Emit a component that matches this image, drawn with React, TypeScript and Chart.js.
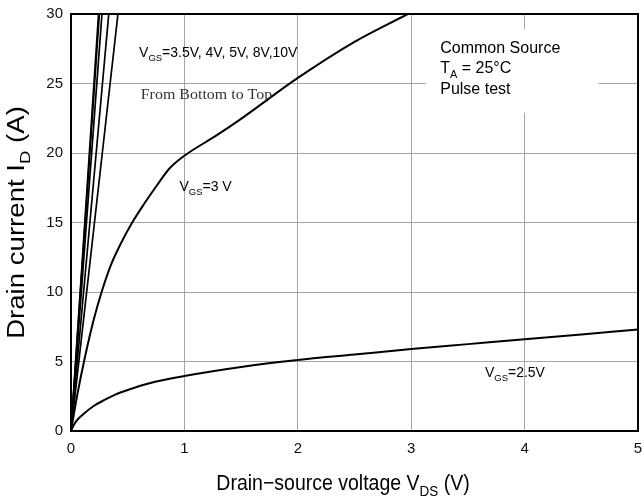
import React, { useEffect, useRef } from 'react';
import { Chart, registerables } from 'chart.js';

Chart.register(...registerables);

// ---- data ----
const vdsTicks = [0, 1, 2, 3, 4, 5];
const idTicks = [0, 5, 10, 15, 20, 25, 30];

// VGS = 2.5 V
const vds25 = [0, 0.02, 0.05, 0.1, 0.2, 0.3, 0.4, 0.5, 0.7, 1.0, 1.5, 2.0, 2.5, 3.0, 3.5, 4.0, 4.5, 5.0];
const id25 = [0, 0.35, 0.75, 1.15, 1.8, 2.25, 2.65, 2.95, 3.45, 3.95, 4.6, 5.1, 5.5, 5.9, 6.25, 6.6, 6.95, 7.3];

// VGS = 3 V
const vds3 = [0, 0.06, 0.12, 0.2, 0.27, 0.35, 0.44, 0.54, 0.65, 0.76, 0.87, 1.0, 1.29, 1.49, 2.0, 2.5, 2.97];
const id3 = [0, 2.8, 5.2, 8.0, 10.0, 11.9, 13.5, 15.0, 16.4, 17.7, 18.9, 19.8, 21.3, 22.4, 25.4, 28.0, 30];

// VGS = 3.5 V, 4 V, 5 V, 8 V, 10 V (nearly linear, drain voltage where 30 A is reached)
const steepGates = ['3.5V', '4V', '5V', '8V', '10V'];
const steepVdsAt30A = [0.414, 0.333, 0.273, 0.25, 0.243];
const steepIdEnd = 30;

const SANS = '"Liberation Sans", Arial, sans-serif';
const SERIF = '"Liberation Serif", "Times New Roman", serif';

type Part = { t: string; size: number; dy?: number; font?: string };

function drawParts(
  ctx: CanvasRenderingContext2D,
  parts: Part[],
  x: number,
  y: number,
  align: 'left' | 'center',
  color: string,
  sx = 1,
  sy = 1,
) {
  ctx.save();
  ctx.translate(x, y);
  ctx.scale(sx, sy);
  const widths = parts.map((p) => {
    ctx.font = `${p.size}px ${p.font || SANS}`;
    return ctx.measureText(p.t).width;
  });
  const total = widths.reduce((a, b) => a + b, 0);
  let cx = align === 'center' ? -total / 2 : 0;
  ctx.fillStyle = color;
  ctx.textAlign = 'left';
  ctx.textBaseline = 'alphabetic';
  parts.forEach((p, i) => {
    ctx.font = `${p.size}px ${p.font || SANS}`;
    ctx.fillText(p.t, cx, p.dy || 0);
    cx += widths[i];
  });
  ctx.restore();
}

const decorPlugin = {
  id: 'decor',
  beforeDatasetsDraw(chart: any) {
    const { ctx, scales } = chart;
    const xs = scales.x, ys = scales.y;
    // white box behind the test-condition text
    ctx.save();
    ctx.fillStyle = '#ffffff';
    const x0 = xs.getPixelForValue(3.13), x1 = xs.getPixelForValue(4.65);
    const y0 = ys.getPixelForValue(28.9), y1 = ys.getPixelForValue(22.9);
    ctx.fillRect(x0, y0, x1 - x0, y1 - y0);
    ctx.restore();
  },
  afterDraw(chart: any) {
    const { ctx, chartArea, scales } = chart;
    const xs = scales.x, ys = scales.y;
    const px = (v: number) => xs.getPixelForValue(v);
    const py = (v: number) => ys.getPixelForValue(v);
    ctx.save();
    // frame
    ctx.strokeStyle = '#000';
    ctx.lineWidth = 2;
    ctx.strokeRect(chartArea.left, chartArea.top, chartArea.right - chartArea.left, chartArea.bottom - chartArea.top);

    // annotations
    drawParts(ctx, [
      { t: 'V', size: 14 },
      { t: 'GS', size: 9.5, dy: 4 },
      { t: '=3.5V, 4V, 5V, 8V,10V', size: 14 },
    ], px(0.6), py(26.9), 'left', '#000');
    drawParts(ctx, [{ t: 'From Bottom to Top', size: 14, font: SERIF }], px(0.615), py(23.9), 'left', '#333', 1.14, 1);
    drawParts(ctx, [
      { t: 'V', size: 14 },
      { t: 'GS', size: 9.5, dy: 4 },
      { t: '=3 V', size: 14 },
    ], px(0.956), py(17.3), 'left', '#000');
    drawParts(ctx, [
      { t: 'V', size: 14 },
      { t: 'GS', size: 9.5, dy: 4 },
      { t: '=2.5V', size: 14 },
    ], px(3.65), py(3.9), 'left', '#000');

    drawParts(ctx, [{ t: 'Common Source', size: 16 }], px(3.256), py(27.17), 'left', '#000');
    drawParts(ctx, [
      { t: 'T', size: 16 },
      { t: 'A', size: 11, dy: 5 },
      { t: ' = 25°C', size: 16 },
    ], px(3.256), py(25.73), 'left', '#000');
    drawParts(ctx, [{ t: 'Pulse test', size: 16 }], px(3.256), py(24.22), 'left', '#000');

    // x axis title
    drawParts(ctx, [
      { t: 'Drain\u2212source voltage V', size: 19.5 },
      { t: 'DS', size: 13.5, dy: 5 },
      { t: ' (V)', size: 19.5 },
    ], 343, 490, 'center', '#000', 1, 1.1);

    // y axis title (rotated)
    ctx.save();
    ctx.translate(24, (chartArea.top + chartArea.bottom) / 2);
    ctx.rotate(-Math.PI / 2);
    drawParts(ctx, [
      { t: 'Drain current I', size: 23 },
      { t: 'D', size: 15.5, dy: 6 },
      { t: ' (A)', size: 23 },
    ], 0, 0, 'center', '#000', 1.2, 1);
    ctx.restore();

    ctx.restore();
  },
};

export default function App() {
  const ref = useRef<HTMLCanvasElement | null>(null);

  useEffect(() => {
    if (!ref.current) return;
    const line = (xsArr: number[], ysArr: number[], label: string, width = 2) => ({
      label,
      data: xsArr.map((x, i) => ({ x, y: ysArr[i] })),
      showLine: true,
      borderColor: '#000',
      backgroundColor: '#000',
      borderWidth: width,
      pointRadius: 0,
      cubicInterpolationMode: 'monotone' as const,
      fill: false,
    });
    const datasets: any[] = [
      line(vds25, id25, 'VGS=2.5V'),
      line(vds3, id3, 'VGS=3V'),
      ...steepGates.map((g, i) => line([0, steepVdsAt30A[i]], [0, steepIdEnd], 'VGS=' + g, 1.7)),
    ];

    const chart = new Chart(ref.current, {
      type: 'scatter',
      data: { datasets },
      options: {
        animation: false,
        responsive: false,
        layout: { padding: { left: 0, right: 5, top: 14, bottom: 0 } },
        plugins: { legend: { display: false }, tooltip: { enabled: false } },
        scales: {
          x: {
            type: 'linear',
            min: 0,
            max: 5,
            afterBuildTicks: (s: any) => { s.ticks = vdsTicks.map((v) => ({ value: v })); },
            afterFit: (s: any) => { s.height = 71; s.paddingLeft = 0; s.paddingRight = 0; },
            ticks: { font: { family: SANS, size: 15 }, color: '#111', padding: 9 },
            grid: { color: '#a6a6a6', lineWidth: 1, drawTicks: false },
            border: { display: true, color: '#000', width: 2 },
          },
          y: {
            type: 'linear',
            min: 0,
            max: 30,
            afterBuildTicks: (s: any) => { s.ticks = idTicks.map((v) => ({ value: v })); },
            afterFit: (s: any) => { s.width = 71; s.paddingTop = 0; s.paddingBottom = 0; },
            ticks: { font: { family: SANS, size: 15 }, color: '#111', padding: 8 },
            grid: { color: '#a6a6a6', lineWidth: 1, drawTicks: false },
            border: { display: true, color: '#000', width: 2 },
          },
        },
      },
      plugins: [decorPlugin],
    });
    return () => chart.destroy();
  }, []);

  return (
    <div style={{ position: 'fixed', left: 0, top: 0, width: 643, height: 502, background: '#fff' }}>
      <canvas ref={ref} width={643} height={502} style={{ display: 'block' }} />
    </div>
  );
}
